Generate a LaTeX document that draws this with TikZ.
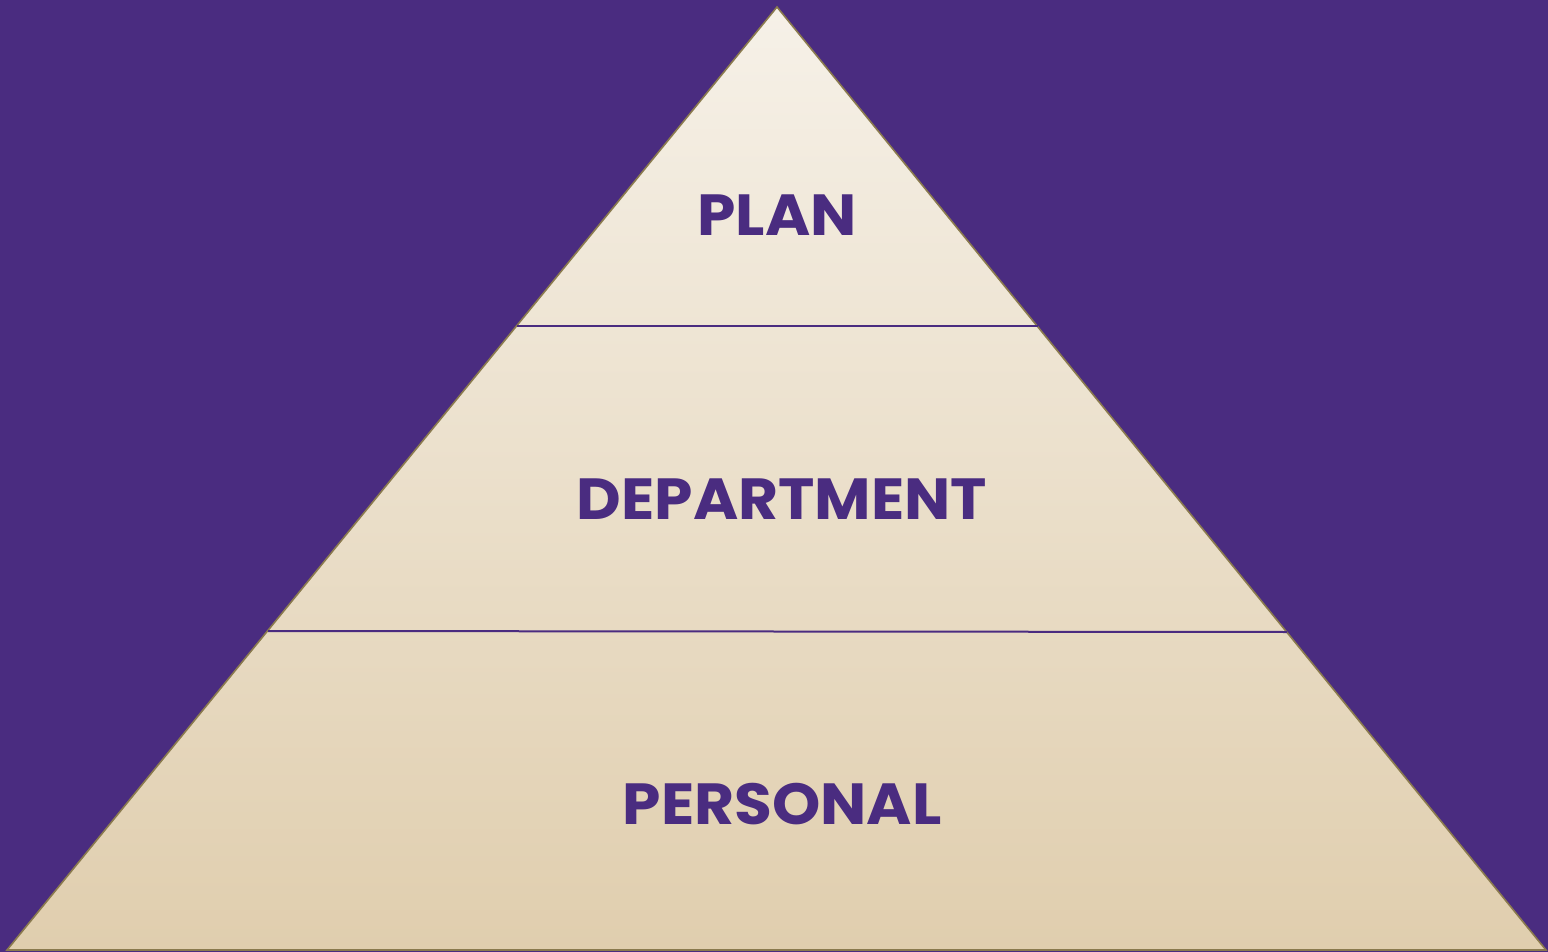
\documentclass[tikz,border=0pt]{standalone}
\usepackage{fontspec}
\setmainfont{Poppins}
\newfontfamily\labelfont{Poppins}[FakeStretch=1.06]
\definecolor{bgpurple}{HTML}{4A2C80}
\definecolor{toptan}{HTML}{F6F1E8}
\definecolor{bottan}{HTML}{E0CEAE}
\definecolor{edgebrown}{HTML}{8A7A4E}
\begin{document}
\begin{tikzpicture}[x=1pt,y=-1pt,
  label/.style={font=\labelfont\fontsize{58}{60}\selectfont\bfseries, text=bgpurple, inner sep=0pt, anchor=center},
  divider/.style={draw=bgpurple, line width=2pt}]
\fill[bgpurple] (0,0) rectangle (1548,952);
\useasboundingbox (0,0) rectangle (1548,952);
\coordinate (apex) at (777,7);
\coordinate (bl) at (7,950);
\coordinate (br) at (1546,950);
\shade[top color=toptan, bottom color=bottan, draw=edgebrown, line width=1.6pt, line join=miter] (apex) -- (br) -- (bl) -- cycle;
\coordinate (d1l) at (517,326);
\coordinate (d1r) at (1038,326);
\coordinate (d2l) at (268,631);
\coordinate (d2r) at (1287,632);
\draw[divider] (d1l) -- (d1r);
\draw[divider] (d2l) -- (d2r);
\node[label] (plan) at (777,215) {PLAN};
\node[label] (dept) at (782,499) {DEPARTMENT};
\node[label] (pers) at (782,804) {PERSONAL};
\end{tikzpicture}
\end{document}
